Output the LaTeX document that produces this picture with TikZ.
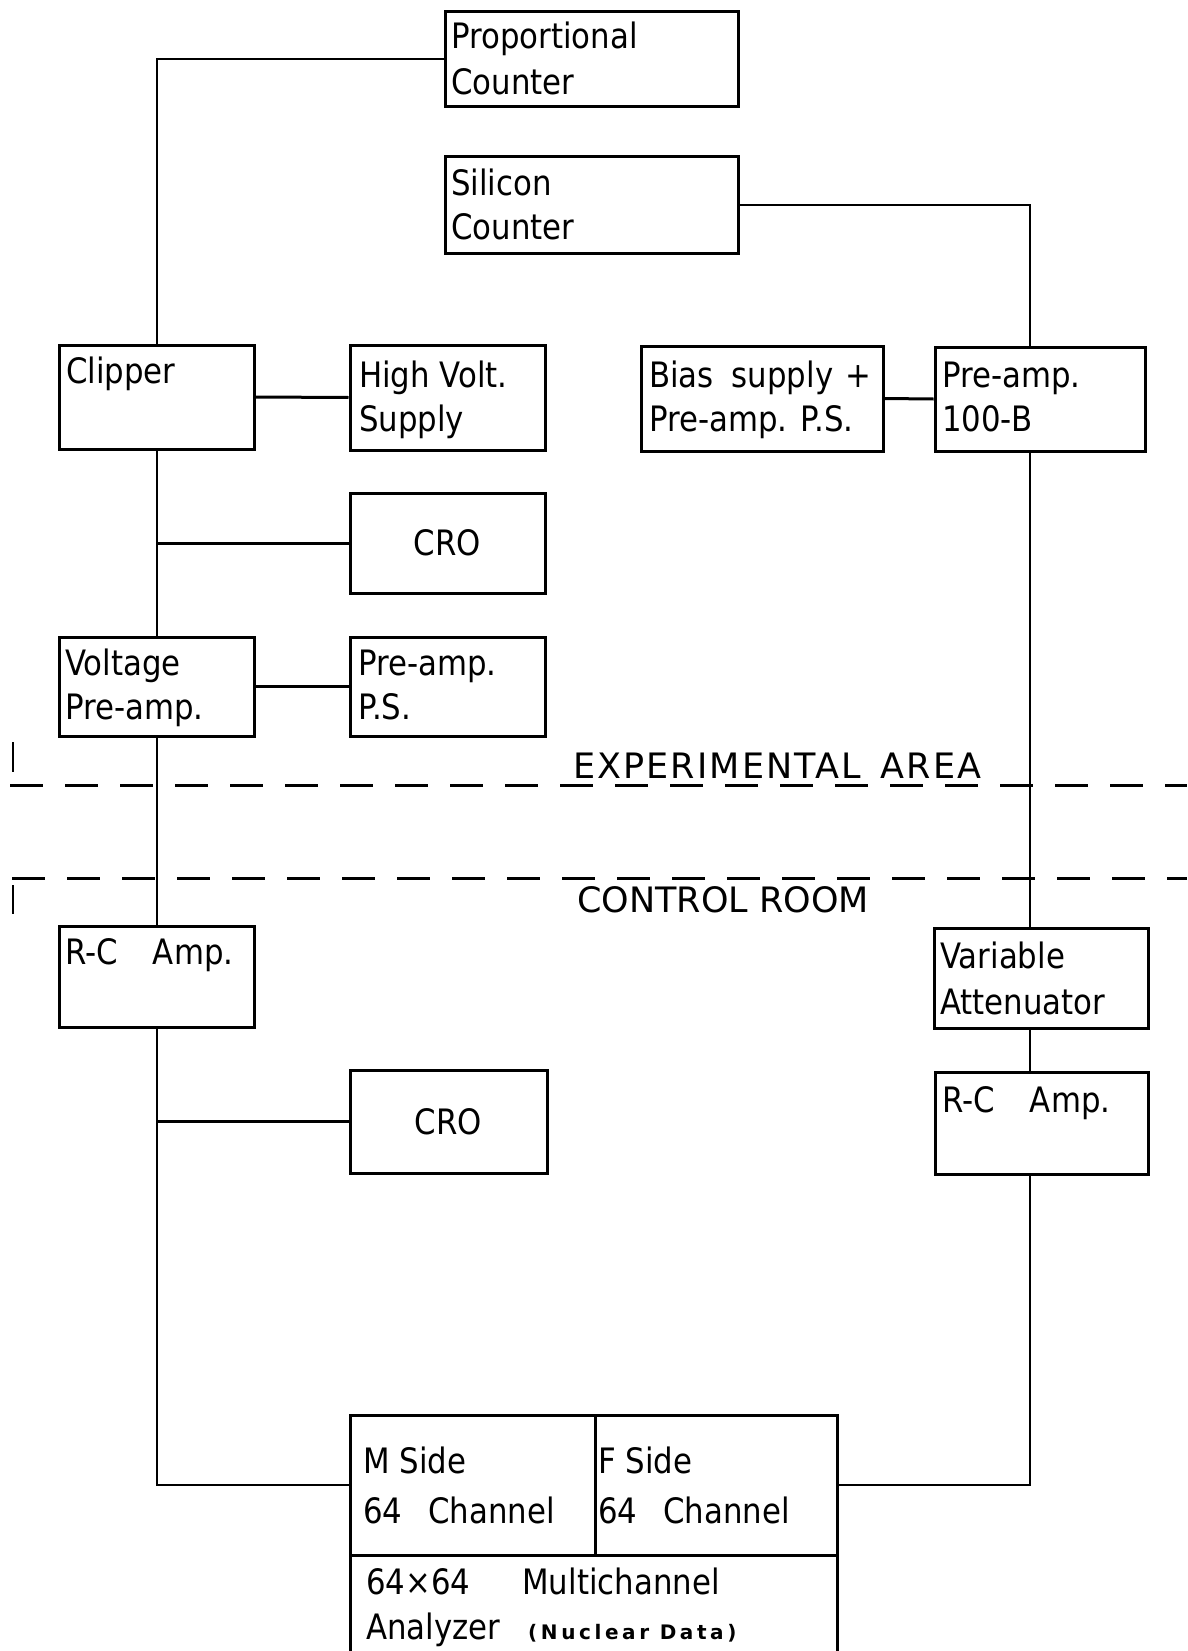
\documentclass[tikz,border=0pt]{standalone}
\usepackage{fontspec}
\setmainfont{DejaVu Sans}[FakeStretch=0.88]
\newfontfamily\expfont{DejaVu Sans}[LetterSpace=6]
\newfontfamily\ctlfont{DejaVu Sans}
\newfontfamily\smallbold{DejaVu Sans Bold}[LetterSpace=18]
\usetikzlibrary{fit}
\newcommand\wsp[1]{\hspace*{#1pt}}
\newcommand\twolines[2]{\begin{tabular}[t]{@{}l@{}}#1\\#2\end{tabular}}
\begin{document}
\begin{tikzpicture}[x=1pt,y=-1pt,
  box/.style={draw, line width=3pt, inner sep=0pt},
  txt/.style={inner sep=0pt, anchor=base west, font=\fontsize{35}{44}\selectfont},
  ctxt/.style={inner sep=0pt, font=\fontsize{35}{44}\selectfont},
  atxt/.style={inner sep=0pt, anchor=base west, font=\fontsize{35}{50}\selectfont},
  btxt/.style={inner sep=0pt, anchor=base west, font=\fontsize{35}{45}\selectfont},
  zone/.style={inner sep=0pt, anchor=base west},
  link/.style={line width=3pt},
  vline/.style={line width=2pt},
  tick/.style={line width=2.5pt},
  sepline/.style={line width=3pt, dash pattern=on 33pt off 22pt},
]
\useasboundingbox (0,0) rectangle (1187,1651);
\fill[white] (0,0) rectangle (1187,1651);

% boxes
\node[box, fit={(445,12) (738,107)}] (pc) {};
\node[box, fit={(445,156) (738,253)}] (si) {};
\node[box, fit={(59,345) (254,449)}] (clip) {};
\node[box, fit={(350,345) (545,450)}] (hv) {};
\node[box, fit={(641,346) (883,451)}] (bias) {};
\node[box, fit={(935,347) (1145,451)}] (pre) {};
\node[box, fit={(350,493) (545,593)}] (cro1) {};
\node[box, fit={(59,637) (254,736)}] (vpa) {};
\node[box, fit={(350,637) (545,736)}] (pps) {};
\node[box, fit={(59,926) (254,1027)}] (rc1) {};
\node[box, fit={(934,928) (1148,1028)}] (va) {};
\node[box, fit={(350,1070) (547,1173)}] (cro2) {};
\node[box, fit={(935,1072) (1148,1174)}] (rc2) {};
\node[box, fit={(350,1415) (595,1555)}] (ms) {};
\node[box, fit={(595,1415) (837,1555)}] (fs) {};
\node[box, fit={(350,1555) (837,1668)}] (an) {};

% texts
\node[txt, font=\fontsize{35}{46}\selectfont] (pct) at (451,49) {\twolines{Proportional}{Counter}};
\node[txt] (sit) at (451,195) {\twolines{Silicon}{Counter}};
\node[txt] (clipt) at (66,383) {Clipper};
\node[txt] (hvt) at (359,387) {\twolines{High Volt.}{Supply}};
\node[txt] (biast) at (649,387) {\twolines{Bias\wsp{18}supply\wsp{12}+}{Pre-amp. P.S.}};
\node[txt] (pret) at (942,387) {\twolines{Pre-amp.}{100-B}};
\node[ctxt] (cro1t) at (cro1.center) {CRO};
\node[txt] (vpat) at (65,675) {\twolines{Voltage}{Pre-amp.}};
\node[txt] (ppst) at (358,675) {\twolines{Pre-amp.}{P.S.}};
\node[txt] (rc1t) at (65,964) {R-C\wsp{35}Amp.};
\node[txt, font=\fontsize{35}{46}\selectfont] (vat) at (940,968) {\twolines{Variable}{Attenuator}};
\node[txt] (rc2t) at (942,1112) {R-C\wsp{35}Amp.};
\node[ctxt] (cro2t) at (cro2.center) {CRO};
\node[atxt] (mst) at (363,1473) {\twolines{M Side}{64\wsp{26}Channel}};
\node[atxt] (fst) at (598,1473) {\twolines{F Side}{64\wsp{26}Channel}};
\node[btxt] (ant) at (366,1594) {\twolines{64×64\wsp{52}Multichannel}{Analyzer\wsp{28}{\smallbold\fontsize{20}{20}\selectfont (Nuclear Data)}}};

% zone labels and separators
\node[zone, font=\expfont\fontsize{35}{40}\selectfont] (expt) at (573,778) {EXPERIMENTAL\wsp{20}AREA};
\node[zone, font=\ctlfont\fontsize{35}{40}\selectfont] (ctrlt) at (577,912) {CONTROL ROOM};
\draw[sepline] (10,785) -- (1187,785);
\draw[sepline] (12,878) -- (1187,878);
\draw[tick] (13,742) -- (13,772);
\draw[tick] (13,885) -- (13,914);

% connectors
\coordinate (rx) at (1030,0);
\draw[vline] (pc.west) -| (clip.north);
\draw[link] (clip.east) -- (hv.west);
\draw[vline] (clip.south) -- (vpa.north);
\draw[link] (clip.south |- cro1.west) -- (cro1.west);
\draw[link] (vpa.east) -- (pps.west);
\draw[vline] (vpa.south) -- (rc1.north);
\draw[vline] (rc1.south) |- (ms.west);
\draw[link] (rc1.south |- cro2.west) -- (cro2.west);

\draw[vline] (si.east) -| (pre.north -| rx);
\draw[link] (bias.east) -- (pre.west);
\draw[vline] (pre.south -| rx) -- (va.north -| rx);
\draw[vline] (va.south -| rx) -- (rc2.north -| rx);
\draw[vline] (rc2.south -| rx) |- (fs.east);
\end{tikzpicture}
\end{document}
